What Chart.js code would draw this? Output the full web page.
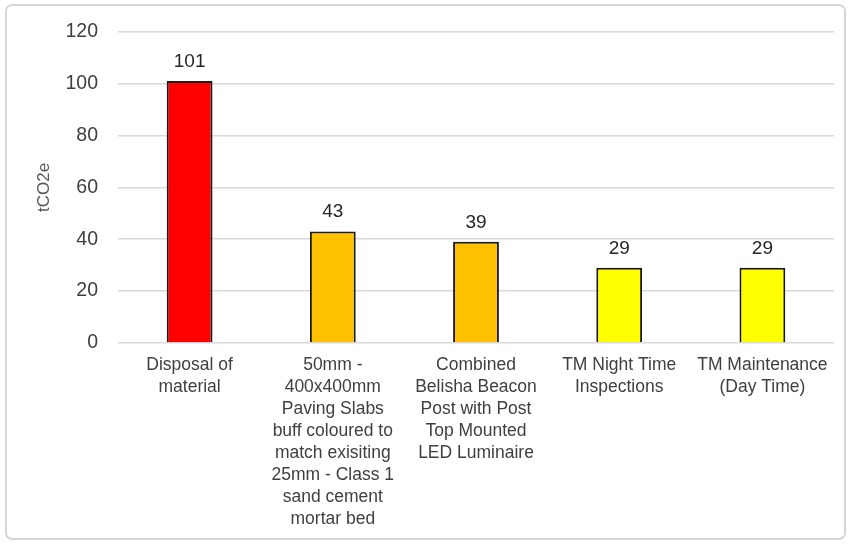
<!DOCTYPE html>
<html>
<head>
<meta charset="utf-8">
<script src="https://cdn.jsdelivr.net/npm/chart.js@4"></script>
<style>
  html, body { margin: 0; padding: 0; background: #fff; }
  #wrap { width: 851px; height: 544px; }
</style>
</head>
<body>
<div id="wrap"><canvas id="emisiones"></canvas></div>
<script>
// categorias (una linea por elemento) y valores en tCO2e
var categorias = [
  ['Disposal of', 'material'],
  ['50mm -', '400x400mm', 'Paving Slabs', 'buff coloured to', 'match exisiting', '25mm - Class 1', 'sand cement', 'mortar bed'],
  ['Combined', 'Belisha Beacon', 'Post with Post', 'Top Mounted', 'LED Luminaire'],
  ['TM Night Time', 'Inspections'],
  ['TM Maintenance', '(Day Time)']
];
var valores = [101, 43, 39, 29, 29];
var colores = ['#ff0000', '#ffc000', '#ffc000', '#ffff00', '#ffff00'];
var ejeY = { min: 0, max: 120, paso: 20 };

// marco gris redondeado alrededor del grafico
var marco = {
  id: 'marco',
  beforeDraw: function (chart) {
    var c = chart.ctx;
    c.save();
    c.fillStyle = '#ffffff';
    c.fillRect(0, 0, chart.width, chart.height);
    c.strokeStyle = '#d6d6d6';
    c.lineWidth = 2;
    c.beginPath();
    c.roundRect(6, 5, chart.width - 12, chart.height - 10, 6);
    c.stroke();
    c.restore();
  }
};

// valor encima de cada barra
var etiquetas = {
  id: 'etiquetas',
  afterDatasetsDraw: function (chart) {
    var c = chart.ctx;
    var meta = chart.getDatasetMeta(0);
    c.save();
    c.font = '19px "Liberation Sans", Arial, sans-serif';
    c.fillStyle = '#262626';
    c.textAlign = 'center';
    c.textBaseline = 'alphabetic';
    meta.data.forEach(function (bar, i) {
      c.fillText(chart.data.datasets[0].data[i], bar.x, bar.y - 14);
    });
    c.restore();
  }
};

var ctx = document.getElementById('emisiones').getContext('2d');
var chart = new Chart(ctx, {
  type: 'bar',
  data: {
    labels: categorias,
    datasets: [{
      data: valores,
      backgroundColor: colores,
      borderColor: '#1a1a1a',
      borderWidth: 2,
      barPercentage: 0.32,
      categoryPercentage: 1
    }]
  },
  options: {
    responsive: true,
    maintainAspectRatio: false,
    animation: false,
    layout: {
      padding: { top: 31, left: 8, right: 17, bottom: 6 }
    },
    plugins: {
      legend: { display: false },
      tooltip: { enabled: false }
    },
    scales: {
      x: {
        afterFit: function (scale) { scale.height = 195; },
        grid: { display: false, drawTicks: false },
        border: { display: false },
        ticks: {
          padding: 11,
          maxRotation: 0,
          autoSkip: false,
          color: '#404040',
          font: { family: '"Liberation Sans", Arial, sans-serif', size: 17.5, lineHeight: 1.257 }
        }
      },
      y: {
        min: ejeY.min,
        max: ejeY.max,
        afterFit: function (scale) { scale.width = 110; },
        grid: { color: '#d9d9d9', lineWidth: 1.5, drawTicks: false },
        border: { display: false },
        ticks: {
          stepSize: ejeY.paso,
          padding: 20,
          color: '#404040',
          font: { family: '"Liberation Sans", Arial, sans-serif', size: 19.5 }
        },
        title: {
          display: true,
          text: 'tCO2e',
          color: '#595959',
          padding: { top: 26, bottom: 0 },
          font: { family: '"Liberation Sans", Arial, sans-serif', size: 17 }
        }
      }
    }
  },
  plugins: [marco, etiquetas]
});
</script>
</body>
</html>
